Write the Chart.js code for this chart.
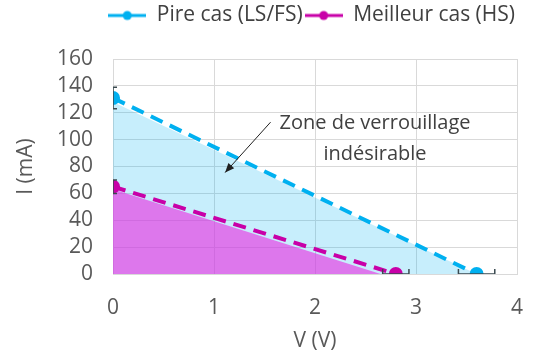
<!DOCTYPE html>
<html>
<head>
<meta charset="utf-8">
<script src="https://cdn.jsdelivr.net/npm/chart.js@4.4.0/dist/chart.umd.min.js"></script>
<style>
  body { margin: 0; background: #fff; }
  #wrap { width: 537px; height: 354px; }
</style>
</head>
<body>
<div id="wrap"><canvas id="chart"></canvas></div>
<script>
// données
var pireX = [0, 3.6];
var pireY = [131, 0];
var meilleurX = [0, 2.8];
var meilleurY = [65, 0];
// zones remplies (légèrement décalées des courbes)
var zonePireX = [0, 3.6];
var zonePireY = [128, 0];
var zoneMeilleurX = [0, 2.65];
var zoneMeilleurY = [63, 0];
// barres d'erreur
var errPireY = 8;      // en mA, au point V=0
var errMeilleurY = 5;
var errPireX = 0.18;   // en V, au point I=0
var errMeilleurX = 0.13;
var yTicks = [0, 20, 40, 60, 80, 100, 120, 140, 160];
var xTicks = [0, 1, 2, 3, 4];

var bleu = '#00B0F0';
var violet = '#C800A8';
var police = "'Open Sans', 'Noto Sans', sans-serif";
var taille = 21;

function toPoints(xs, ys) {
    return xs.map(function (x, i) { return { x: x, y: ys[i] }; });
}

// petite icône ligne + point pour la légende
function legendIcon(color) {
    var c = document.createElement('canvas');
    c.width = 38; c.height = 12;
    var g = c.getContext('2d');
    g.strokeStyle = color;
    g.lineWidth = 3;
    g.beginPath(); g.moveTo(0, 6); g.lineTo(38, 6); g.stroke();
    g.fillStyle = color;
    g.beginPath(); g.arc(19, 6, 4.5, 0, Math.PI * 2); g.fill();
    return c;
}

// hauteur fixe pour la légende
var legendSpace = {
    id: 'legendSpace',
    beforeInit: function (chart) {
        var fit = chart.legend.fit;
        chart.legend.fit = function () {
            fit.bind(chart.legend)();
            this.height = 56;
        };
    }
};

// barres d'erreur + annotation
var extras = {
    id: 'extras',
    afterDatasetsDraw: function (chart) {
        var ctx = chart.ctx;
        var xs = chart.scales.x, ys = chart.scales.y;
        var area = chart.chartArea;
        ctx.save();
        ctx.beginPath();
        ctx.rect(area.left, area.top - 10, area.right - area.left, area.bottom - area.top + 10);
        ctx.clip();
        ctx.strokeStyle = '#3a4a50';
        ctx.lineWidth = 1.5;
        function vbar(x, y, e) {
            var px = xs.getPixelForValue(x);
            var t = ys.getPixelForValue(y + e), b = ys.getPixelForValue(y - e);
            ctx.beginPath();
            ctx.moveTo(px, t); ctx.lineTo(px, b);
            ctx.moveTo(px - 4, t); ctx.lineTo(px + 4, t);
            ctx.moveTo(px - 4, b); ctx.lineTo(px + 4, b);
            ctx.stroke();
        }
        function hbar(x, y, e) {
            var py = ys.getPixelForValue(y);
            var l = xs.getPixelForValue(x - e), r = xs.getPixelForValue(x + e);
            ctx.beginPath();
            ctx.moveTo(l, py); ctx.lineTo(r, py);
            ctx.moveTo(l, py - 5); ctx.lineTo(l, py + 5);
            ctx.moveTo(r, py - 5); ctx.lineTo(r, py + 5);
            ctx.stroke();
        }
        vbar(pireX[0], pireY[0], errPireY);
        vbar(meilleurX[0], meilleurY[0], errMeilleurY);
        hbar(pireX[1], pireY[1], errPireX);
        hbar(meilleurX[1], meilleurY[1], errMeilleurX);
        ctx.restore();

        // annotation
        ctx.save();
        ctx.fillStyle = '#404040';
        ctx.font = '20px ' + police;
        ctx.textAlign = 'center';
        ctx.textBaseline = 'middle';
        ctx.fillText('Zone de verrouillage', xs.getPixelForValue(2.594), ys.getPixelForValue(112));
        ctx.fillText('indésirable', xs.getPixelForValue(2.594), ys.getPixelForValue(89));
        var x1 = xs.getPixelForValue(1.56), y1 = ys.getPixelForValue(113);
        var x2 = xs.getPixelForValue(1.11), y2 = ys.getPixelForValue(75.5);
        ctx.strokeStyle = '#202020';
        ctx.lineWidth = 1;
        ctx.beginPath(); ctx.moveTo(x1, y1); ctx.lineTo(x2, y2); ctx.stroke();
        var a = Math.atan2(y2 - y1, x2 - x1);
        ctx.fillStyle = '#202020';
        ctx.beginPath();
        ctx.moveTo(x2, y2);
        ctx.lineTo(x2 - 10 * Math.cos(a - 0.4), y2 - 10 * Math.sin(a - 0.4));
        ctx.lineTo(x2 - 10 * Math.cos(a + 0.4), y2 - 10 * Math.sin(a + 0.4));
        ctx.closePath();
        ctx.fill();
        ctx.restore();
    }
};

var ctx = document.getElementById('chart').getContext('2d');
var myChart = new Chart(ctx, {
    type: 'scatter',
    data: {
        datasets: [
            {
                label: 'Pire cas (LS/FS)',
                data: toPoints(pireX, pireY),
                showLine: true,
                borderColor: bleu,
                backgroundColor: bleu,
                borderWidth: 4,
                borderDash: [13, 8],
                pointRadius: 5,
                pointHoverRadius: 5,
                order: 1
            },
            {
                label: 'Meilleur cas (HS)',
                data: toPoints(meilleurX, meilleurY),
                showLine: true,
                borderColor: violet,
                backgroundColor: violet,
                borderWidth: 4,
                borderDash: [13, 8],
                pointRadius: 5,
                pointHoverRadius: 5,
                order: 0
            },
            {
                label: 'zone pire',
                data: toPoints(zonePireX, zonePireY),
                showLine: true,
                fill: 'origin',
                borderWidth: 0,
                borderColor: 'rgba(0,0,0,0)',
                backgroundColor: 'rgba(0,176,240,0.22)',
                pointRadius: 0,
                order: 4
            },
            {
                label: 'zone meilleur',
                data: toPoints(zoneMeilleurX, zoneMeilleurY),
                showLine: true,
                fill: 'origin',
                borderWidth: 0,
                borderColor: 'rgba(0,0,0,0)',
                backgroundColor: 'rgba(235,40,225,0.6)',
                pointRadius: 0,
                order: 3
            }
        ]
    },
    options: {
        responsive: true,
        maintainAspectRatio: false,
        animation: false,
        layout: { padding: { left: 0, right: 20, top: 3, bottom: 0 } },
        plugins: {
            tooltip: { enabled: false },
            legend: {
                position: 'top',
                align: 'end',
                labels: {
                    usePointStyle: true,
                    pointStyleWidth: 38,
                    color: '#404040',
                    font: { family: police, size: taille },
                    padding: 2,
                    filter: function (item) { return item.datasetIndex < 2; },
                    generateLabels: function (chart) {
                        var icons = [legendIcon(bleu), legendIcon(violet)];
                        return chart.data.datasets.map(function (ds, i) {
                            return {
                                text: ds.label,
                                pointStyle: icons[i] || 'circle',
                                fontColor: '#404040',
                                strokeStyle: 'rgba(0,0,0,0)',
                                lineWidth: 0,
                                datasetIndex: i
                            };
                        });
                    }
                }
            }
        },
        scales: {
            x: {
                type: 'linear',
                min: 0,
                max: 4,
                afterBuildTicks: function (axis) {
                    axis.ticks = xTicks.map(function (v) { return { value: v }; });
                },
                afterFit: function (axis) { axis.height = 80; },
                grid: { color: '#d9d9d9', drawTicks: false },
                border: { color: '#d9d9d9' },
                ticks: { color: '#595959', font: { family: police, size: taille, lineHeight: 2.1 }, padding: 12, autoSkip: false, maxRotation: 0 },
                title: { display: true, text: 'V (V)', color: '#595959', font: { family: police, size: taille }, padding: { top: 0, bottom: 0 } }
            },
            y: {
                min: 0,
                max: 160,
                afterBuildTicks: function (axis) {
                    axis.ticks = yTicks.map(function (v) { return { value: v }; });
                },
                grid: { color: '#d9d9d9', drawTicks: false },
                border: { color: '#d9d9d9' },
                ticks: { color: '#595959', font: { family: police, size: taille }, padding: 20, autoSkip: false },
                title: { display: true, text: 'I (mA)', color: '#595959', font: { family: police, size: taille, lineHeight: 1 }, padding: { top: 16, bottom: 0 } }
            }
        }
    },
    plugins: [extras, legendSpace]
});
</script>
</body>
</html>
